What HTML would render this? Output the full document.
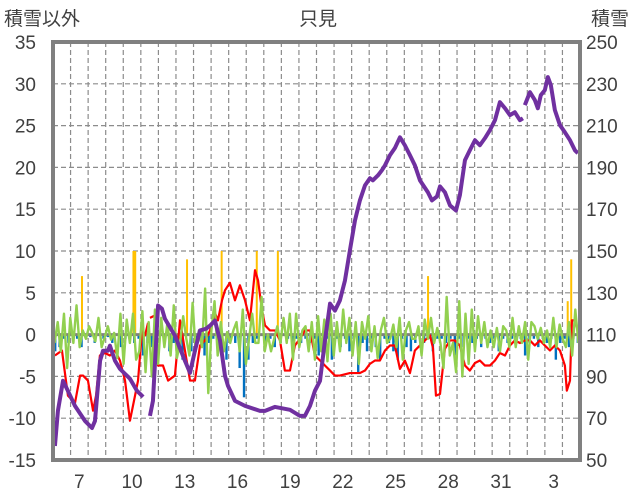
<!DOCTYPE html>
<html><head><meta charset="utf-8"><style>
html,body{margin:0;padding:0;background:#fff;}
svg{display:block;font-family:"Liberation Sans","Noto Sans CJK JP",sans-serif;}
</style></head><body>
<svg id="chart" width="636" height="501" viewBox="0 0 636 501" xmlns="http://www.w3.org/2000/svg">
<text x="318" y="25" text-anchor="middle" font-size="19" fill="#404040">只見</text>
<text x="4" y="25" font-size="19" fill="#404040">積雪以外</text>
<text x="591" y="25" font-size="19" fill="#404040">積雪</text>
<g id="grid"></g>
<g id="series"></g>
<g id="axes"></g>
</svg>
<script>
const xLabels=["7","10","13","16","19","22","25","28","31","3"];
const xLabelDays=[1,4,7,10,13,16,19,22,25,28];
const leftTicks=[35,30,25,20,15,10,5,0,-5,-10,-15];
const rightTicks=[250,230,210,190,170,150,130,110,90,70,50];
const redT=[0.11,0.51,0.85,1.25,1.54,1.71,1.99,2.28,2.45,2.67,2.96,3.24,3.53,3.81,4.10,4.38,4.67,4.84,5.07,5.24,5.41];
const redV=[-2.5,-1.9,-7.3,-8.2,-4.9,-4.9,-5.5,-9.1,-7.3,-2.5,-2.2,-2.5,-1.9,-3.1,-5.5,-10.3,-7.3,-5.5,0.5,-0.1,1.4];
const redT2=[5.52,5.81,5.98,6.26,6.55,6.94,7.23,7.51,7.80,8.08,8.37,8.65,8.94,9.22,9.39,9.62,9.79,10.07,10.36,10.64,10.93,11.21,11.50,11.67,11.90,12.07,12.35,12.64,12.92,13.20,13.49,13.77,14.06,14.34,14.63,14.91,15.20,15.48,15.77,16.05,16.33,16.90,17.47,17.76,18.04,18.33,18.61,18.90,19.18,19.46,19.75,20.03,20.32,20.60,20.89,21.17,21.46,21.63,21.80,22.03,22.31,22.60,22.88,23.16,23.45,23.73,24.02,24.30,24.59,24.87,25.16,25.44,25.73,26.01,26.29,26.58,26.86,27.15,27.43,27.72,28.00,28.29,28.57,28.86,29.14,29.25,29.43,29.54,29.71,29.88];
const redV2=[2.0,2.3,-3.7,-3.7,-5.5,-4.9,1.7,-1.9,-5.5,-5.5,-1.3,-0.7,0.5,2.6,1.7,4.1,5.3,6.2,4.1,5.9,4.1,1.7,7.7,6.5,2.9,1.1,0.5,0.5,-0.7,-4.3,-4.3,-1.3,-0.5,0.5,0.5,-2.5,-3.1,-3.7,-4.3,-4.9,-4.9,-4.6,-4.6,-4.3,-3.5,-3.1,-3.1,-1.9,-1.3,-1.3,-4.1,-3.1,-4.6,-1.9,-1.3,-0.7,-0.1,-1.6,-7.3,-7.1,-1.7,-0.7,-0.7,-1.3,-3.7,-4.3,-3.4,-3.1,-3.7,-3.7,-3.1,-2.2,-2.5,-1.3,-0.7,-1.0,-0.7,-0.7,-1.3,-0.7,-1.3,-1.9,-1.3,-1.9,-3.7,-6.7,-5.5,1.7,1.7,0.5];
const snowT=[0.11,0.28,0.57,0.85,1.25,1.82,2.22,2.39,2.68,2.85,3.13,3.24,3.53,3.81,4.38,4.78,5.13];
const snowV=[56.7,73.5,87.9,83.1,75.9,68.7,65.3,68.7,97.5,102.3,102.3,104.7,97.5,93.6,88.9,83.1,80.2];
const snowT2=[5.52,5.69,5.98,6.20,6.37,6.94,7.51,7.80,8.08,8.37,8.71,8.94,9.22,9.51,9.79,9.96,10.36,10.93,11.78,12.07,12.64,13.49,14.06,14.34,14.63,14.91,15.20,15.48,15.77,16.05,16.33,16.62,16.90,17.19,17.47,17.76,18.04,18.21,18.50,18.72,18.90,19.18,19.46,19.75,20.03,20.32,20.60,20.89,21.34,21.57,21.86,22.03,22.31,22.60,22.94,23.16,23.45,23.73,24.02,24.30,24.59,24.87,25.16,25.44,25.73,26.01,26.29,26.58,26.75];
const snowV2=[71.1,78.3,123.9,122.4,117.6,109.5,97.5,91.7,102.3,112.0,112.8,114.3,116.7,107.1,90.3,85.5,78.3,75.9,73.5,73.5,75.4,74.0,71.1,71.1,75.9,83.1,87.9,107.1,124.8,121.5,126.3,135.9,150.2,164.6,174.2,181.4,184.8,183.8,186.2,188.6,191.0,195.8,199.2,204.4,200.6,195.8,191.0,183.8,178.1,174.2,176.1,180.9,178.1,171.8,169.4,176.6,193.4,198.2,203.0,200.6,204.0,207.8,212.6,221.2,218.3,215.0,216.4,212.6,213.5];
const snowT3=[26.86,27.15,27.43,27.60,27.77,28.00,28.17,28.34,28.57,28.86,29.14,29.43,29.71,29.88];
const snowV3=[219.8,226.0,222.2,218.3,224.6,227.0,233.2,229.4,217.4,210.2,206.8,203.0,198.2,196.8];
const greenV=[-1,1.5,-2,2.5,-4,2,-1,3.5,-1.5,0.5,-0.5,1,0.2,-0.8,2,-1.5,-0.3,1,-0.6,0.2,-2.8,2.5,-3.5,1.8,-1,2.5,-3,-2,2.8,-4.5,1.5,-5,3,-3.5,2,-1.5,1.5,-2.5,3.5,-2.8,-1,2.2,-0.5,-2.5,3.8,-2,0.5,-1.5,5.5,-7,0.5,4,-2.5,1.5,-2,0.3,-1,0.5,1.5,-2,3,-3.5,-0.5,2.5,-1,-1,4.5,-2,0,-2,-0.5,1,-1,2,-1,2.5,-3,2.5,-1.5,0.5,1,-2,1.5,-3,2.2,-2,1.8,-3.2,2.5,-2.5,1.5,-2,3,-1,2,-2.5,1.5,-3.5,1.5,-0.5,2.2,-2,1,-2.8,0.5,2,-1,-0.5,1.2,-1.5,2,-3,0.5,1.5,-0.5,-0.5,1,-2.5,1.8,-0.5,2,-1,0.8,-1,-4,4.5,-2.5,-1,-4.5,4,-5,2.5,-3.5,3,-2,2.2,-1,1.5,-1.5,0.5,-1.5,0.8,-2,1,0.5,-1.5,2,-1.5,1,-1,1.5,-3,1.5,1,-0.5,0.8,-1,0.5,-1.5,2,-1.5,1.2,-0.5,-1.5,1.5,-2.5,3,-1];
const blueV=[-2,-1.5,-0.5,-1,0,-0.5,-1.5,-0.5,-0.3,-1,0,-0.5,-0.3,-1,0,-1.5,-0.5,0,-1,-0.5,-2.5,-1,-1.5,-3.5,0,-0.5,-2,-1,-0.5,-3,0,-2,-1,-0.5,-2.5,-1,-0.5,-2.5,-1,-3,-0.5,-1,-4,-7.5,-3,-1,-0.5,0,-1,-0.5,-1.5,-0.5,0,-0.5,-1,-0.5,-1,-0.5,-1,-0.5,-2.5,-1,-0.5,-3,-0.5,-1.5,-0.5,-2,-0.5,-4.5,-1,-2,-0.5,-1.5,-3,-0.5,-1,-2,-3,-0.5,-1.5,-2,-1,-0.5,-1,-0.5,-2,-0.5,-0.5,-1,-0.5,-2.5,-0.5,-1.5,-0.5,-1,-0.5,-1.5,-0.5,-1,-0.5,-2,-0.5,-1,-0.5,-1,-0.5,-2.5,-1,-0.5,-1.5,-0.5,-1,-0.5,-3,-1,-0.5,-1.5,-0.5,-1];
const orangeT=[1.65,4.58,4.68,7.63,9.60,11.60,12.80,21.35,29.30,29.50];
const orangeV=[7,10,10,9,10,10,10,7,4,9];

const L=53,R=580,T=42,B=460,ND=30;
const xS=d=>L+(d/ND)*(R-L);
const yL=v=>T+(35-v)/50*(B-T);
const yR=v=>T+(250-v)/200*(B-T);
const NS="http://www.w3.org/2000/svg";
const grid=document.getElementById('grid'),ser=document.getElementById('series'),ax=document.getElementById('axes');
function mk(tag,attrs,parent){const e=document.createElementNS(NS,tag);for(const k in attrs)e.setAttribute(k,attrs[k]);parent.appendChild(e);return e;}
leftTicks.forEach(v=>{if(v===35||v===-15||v===0)return;const l=mk('line',{x1:L,x2:R,y1:yL(v),y2:yL(v),stroke:'#8c8c8c','stroke-width':1.2,'stroke-dasharray':'5,3'},grid);

});
for(let k=1;k<ND;k++){const l=mk('line',{x1:xS(k),x2:xS(k),y1:T,y2:B,stroke:'#8c8c8c','stroke-width':1.2,'stroke-dasharray':'5,3'},grid);

}
function poly(ts,vs,sc,color,w,name){const p=mk('polyline',{points:ts.map((t,i)=>xS(t)+','+sc(vs[i])).join(' '),fill:'none',stroke:color,'stroke-width':w,'stroke-linejoin':'round'},ser);

}
blueV.forEach((v,i)=>{const x=xS((i+0.5)*ND/blueV.length);const b=mk('rect',{x:x-1.2,y:yL(0),width:2.4,height:yL(v)-yL(0),fill:'#0070c0'},ser);

});
orangeT.forEach((t,i)=>{const b=mk('rect',{x:xS(t)-1,y:yL(orangeV[i]),width:2,height:yL(0)-yL(orangeV[i]),fill:'#ffc000'},ser);

});
const zl=mk('line',{x1:L,x2:R,y1:yL(0),y2:yL(0),stroke:'#808080','stroke-width':3},ser);


poly(redT,redV,yL,'#ff0000',2.2,'temperature-line');
poly(redT2,redV2,yL,'#ff0000',2.2,'temperature-line');
poly(greenV.map((v,i)=>(i+0.5)*ND/greenV.length),greenV,yL,'#92d050',2.4,'wind-line');
poly(snowT,snowV,yR,'#7030a0',4,'snow-depth-line');
poly(snowT2,snowV2,yR,'#7030a0',4,'snow-depth-line');
poly(snowT3,snowV3,yR,'#7030a0',4,'snow-depth-line');
const fr=mk('rect',{x:L,y:T,width:R-L,height:B-T,fill:'none',stroke:'#808080','stroke-width':4},ax);


leftTicks.forEach(v=>{const t=mk('text',{x:36,y:yL(v)+7,'text-anchor':'end','font-size':19,fill:'#404040'},ax);t.textContent=v;

});
rightTicks.forEach(v=>{const t=mk('text',{x:586,y:yR(v)+7,'font-size':19,fill:'#404040'},ax);t.textContent=v;

});
xLabels.forEach((s,i)=>{const t=mk('text',{x:xS(xLabelDays[i]+0.5),y:488,'text-anchor':'middle','font-size':19,fill:'#404040'},ax);t.textContent=s;

});
</script>
</body></html>
